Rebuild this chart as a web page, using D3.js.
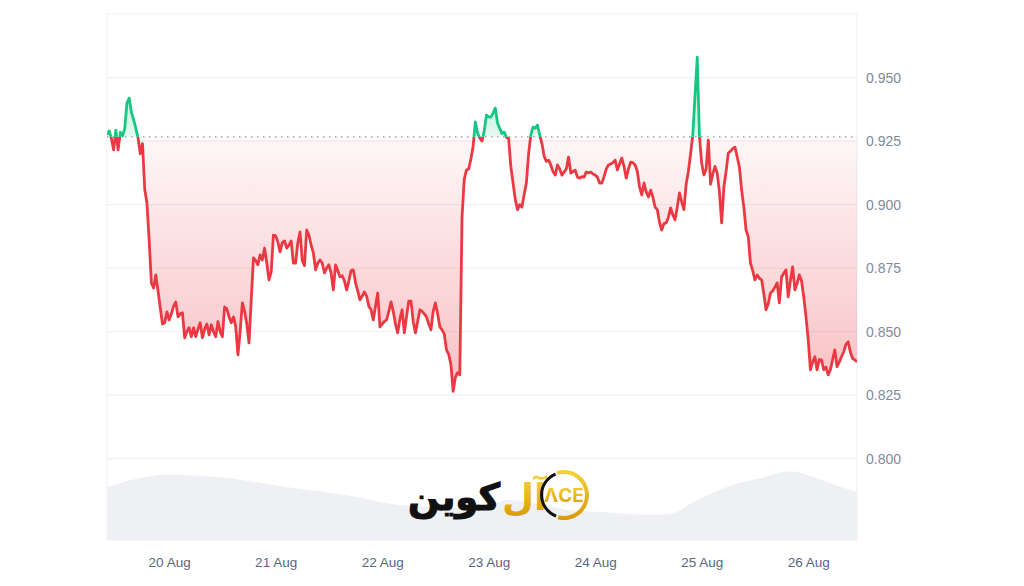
<!DOCTYPE html>
<html><head><meta charset="utf-8">
<script src="https://cdn.jsdelivr.net/npm/d3@7"></script>
<style>
body{margin:0;background:#fff;}
svg{display:block;font-family:Inter,"Noto Sans",sans-serif;}
</style>
</head><body>
<svg id="chart" width="1024" height="586"></svg>
<script>
// ---------------- data ----------------
const startTime = new Date(2024, 7, 19, 10, 0);   // first sample, 19 Aug 10:00
const priceStepMinutes = 30;
const prices = [
0.9275,0.9290,0.9260,0.9215,0.9293,0.9215,0.9285,0.9270,0.9300,0.9400,
0.9419,0.9363,0.9333,0.9300,0.9262,0.9200,0.9240,0.9060,0.9006,0.8860,
0.8692,0.8672,0.8723,0.8660,0.8594,0.8530,0.8535,0.8578,0.8546,0.8570,
0.8600,0.8617,0.8558,0.8570,0.8574,0.8476,0.8500,0.8515,0.8480,0.8515,
0.8480,0.8510,0.8535,0.8476,0.8510,0.8530,0.8487,0.8527,0.8500,0.8480,
0.8539,0.8500,0.8480,0.8597,0.8590,0.8558,0.8535,0.8558,0.8520,0.8409,
0.8500,0.8613,0.8580,0.8530,0.8456,0.8625,0.8790,0.8780,0.8763,0.8802,
0.8782,0.8829,0.8770,0.8704,0.8735,0.8880,0.8877,0.8853,0.8814,0.8850,
0.8857,0.8829,0.8840,0.8857,0.8770,0.8770,0.8850,0.8892,0.8780,0.8760,
0.8900,0.8880,0.8840,0.8810,0.8743,0.8770,0.8782,0.8770,0.8731,0.8750,
0.8763,0.8730,0.8664,0.8763,0.8740,0.8716,0.8720,0.8700,0.8664,0.8700,
0.8740,0.8743,0.8692,0.8660,0.8625,0.8640,0.8656,0.8640,0.8600,0.8586,
0.8546,0.8600,0.8652,0.8519,0.8530,0.8540,0.8546,0.8580,0.8617,0.8580,
0.8530,0.8495,0.8550,0.8586,0.8495,0.8560,0.8620,0.8620,0.8540,0.8495,
0.8540,0.8586,0.8580,0.8570,0.8558,0.8530,0.8507,0.8580,0.8613,0.8570,
0.8519,0.8507,0.8490,0.8428,0.8410,0.8370,0.8265,0.8320,0.8338,0.8330,
0.8950,0.9100,0.9136,0.9140,0.9180,0.9230,0.9325,0.9281,0.9262,0.9250,
0.9290,0.9352,0.9345,0.9344,0.9360,0.9380,0.9320,0.9300,0.9280,0.9285,
0.9265,0.9260,0.9148,0.9085,0.9020,0.8980,0.9000,0.8990,0.9040,0.9085,
0.9200,0.9274,0.9305,0.9300,0.9313,0.9274,0.9240,0.9190,0.9170,0.9175,
0.9156,0.9130,0.9116,0.9156,0.9140,0.9116,0.9128,0.9140,0.9187,0.9124,
0.9130,0.9135,0.9108,0.9104,0.9110,0.9108,0.9128,0.9125,0.9128,0.9120,
0.9116,0.9108,0.9085,0.9085,0.9110,0.9140,0.9156,0.9160,0.9165,0.9175,
0.9136,0.9160,0.9183,0.9150,0.9104,0.9140,0.9167,0.9165,0.9156,0.9130,
0.9070,0.9038,0.9085,0.9050,0.9030,0.9057,0.9030,0.8990,0.8980,0.8930,
0.8900,0.8925,0.8928,0.8950,0.8987,0.8960,0.8940,0.8990,0.9046,0.9010,
0.8980,0.9080,0.9130,0.9200,0.9274,0.9430,0.9580,0.9267,0.9163,0.9116,
0.9140,0.9254,0.9080,0.9120,0.9150,0.9124,0.9050,0.8928,0.9069,0.9130,
0.9203,0.9210,0.9220,0.9226,0.9187,0.9148,0.9057,0.8990,0.8900,0.8873,
0.8770,0.8740,0.8704,0.8723,0.8710,0.8704,0.8650,0.8586,0.8610,0.8652,
0.8660,0.8675,0.8692,0.8613,0.8715,0.8730,0.8743,0.8637,0.8700,0.8755,
0.8664,0.8690,0.8723,0.8700,0.8637,0.8560,0.8470,0.8350,0.8380,0.8401,
0.8350,0.8390,0.8389,0.8350,0.8360,0.8330,0.8350,0.8390,0.8428,0.8362,
0.8380,0.8401,0.8420,0.8450,0.8460,0.8420,0.8395,0.8389,0.8381
];
const baselinePrice = 0.9267;
const volumeStepHours = 7;
const volumes = [66,77,82,80,77,71,65,60,54,46,42,40,42,50,44,37,35,32,32,50,67,77,86,75,62,58];
const yTickValues = [0.800,0.825,0.850,0.875,0.900,0.925,0.950];
const xTickDates = [new Date(2024,7,20),new Date(2024,7,21),new Date(2024,7,22),new Date(2024,7,23),new Date(2024,7,24),new Date(2024,7,25),new Date(2024,7,26)];
const logoWord = "کوین";
const logoGold = "آل";

// ---------------- layout ----------------
const L = 107, R = 857, T = 14, B = 540;
const svg = d3.select("#chart");
const priceData = prices.map((v,i)=>({t: d3.timeMinute.offset(startTime, i*priceStepMinutes), v}));
const volData = volumes.map((v,i)=>({t: d3.timeHour.offset(startTime, i*volumeStepHours), v}));
const endTime = priceData[priceData.length-1].t;

const x = d3.scaleTime().domain([startTime, endTime]).range([L, R]);
const y = d3.scaleLinear().domain([0.768, 0.975]).range([B, T]);
const yv = d3.scaleLinear().domain([0, 100]).range([B, 460]);
const yB = y(baselinePrice);

const RED = "#ea3943", GREEN = "#16c784";

const defs = svg.append("defs");
const gr = defs.append("linearGradient").attr("id","gRed").attr("gradientUnits","userSpaceOnUse")
  .attr("x1",0).attr("x2",0).attr("y1",yB).attr("y2",y(0.826));
gr.append("stop").attr("offset",0).attr("stop-color",RED).attr("stop-opacity",0.04);
gr.append("stop").attr("offset",1).attr("stop-color",RED).attr("stop-opacity",0.32);
const gg = defs.append("linearGradient").attr("id","gGreen").attr("gradientUnits","userSpaceOnUse")
  .attr("x1",0).attr("x2",0).attr("y1",yB).attr("y2",y(0.958));
gg.append("stop").attr("offset",0).attr("stop-color",GREEN).attr("stop-opacity",0.12);
gg.append("stop").attr("offset",1).attr("stop-color",GREEN).attr("stop-opacity",0.35);
defs.append("clipPath").attr("id","above").append("rect").attr("x",L).attr("y",0).attr("width",R-L).attr("height",yB);
defs.append("clipPath").attr("id","below").append("rect").attr("x",L).attr("y",yB).attr("width",R-L).attr("height",586-yB);
defs.append("clipPath").attr("id","plot").append("rect").attr("x",L).attr("y",T).attr("width",R-L).attr("height",B-T);

// frame
svg.append("rect").attr("x",L).attr("y",T).attr("width",R-L).attr("height",B-T)
  .attr("fill","none").attr("stroke","#eff2f5").attr("stroke-width",1.2);

// volume
svg.append("path").datum(volData).attr("clip-path","url(#plot)")
  .attr("fill","#eef0f3")
  .attr("d", d3.area().x(d=>x(d.t)).y0(B).y1(d=>yv(d.v)).curve(d3.curveMonotoneX));

// grid
svg.append("g").selectAll("line").data(yTickValues).join("line")
  .attr("x1",L).attr("x2",R).attr("y1",d=>y(d)).attr("y2",d=>y(d))
  .attr("stroke","#eff2f5").attr("stroke-width",1.2);

// areas
const area = d3.area().x(d=>x(d.t)).y0(yB).y1(d=>y(d.v));
svg.append("path").datum(priceData).attr("clip-path","url(#below)").attr("fill","url(#gRed)").attr("d",area);
svg.append("path").datum(priceData).attr("clip-path","url(#above)").attr("fill","url(#gGreen)").attr("d",area);

// baseline
svg.append("line").attr("x1",L).attr("x2",R).attr("y1",yB).attr("y2",yB)
  .attr("stroke","#a6a9b4").attr("stroke-width",1.5).attr("stroke-dasharray","1.5,4.5");

// lines
const line = d3.line().x(d=>x(d.t)).y(d=>y(d.v));
svg.append("path").datum(priceData).attr("clip-path","url(#below)").attr("fill","none")
  .attr("stroke",RED).attr("stroke-width",2.8).attr("stroke-linejoin","round").attr("d",line);
svg.append("path").datum(priceData).attr("clip-path","url(#above)").attr("fill","none")
  .attr("stroke",GREEN).attr("stroke-width",2.8).attr("stroke-linejoin","round").attr("d",line);

// y axis
const ya = svg.append("g").attr("transform",`translate(${R},0)`)
  .call(d3.axisRight(y).tickValues(yTickValues).tickFormat(d3.format(".3f")).tickSize(0).tickPadding(9));
ya.select(".domain").remove();
ya.selectAll("text").attr("fill","#808a9d").style("font-size","14px");

// x axis
const xa = svg.append("g").attr("transform",`translate(0,${B})`)
  .call(d3.axisBottom(x).tickValues(xTickDates).tickFormat(d3.timeFormat("%-d %b")).tickSize(0).tickPadding(17));
xa.select(".domain").remove();
xa.selectAll("text").attr("fill","#58667e").style("font-size","13.5px");

// watermark logo
const lg = svg.append("g");
const gold = defs.append("linearGradient").attr("id","gold").attr("x1",0).attr("x2",0).attr("y1",0).attr("y2",1);
gold.append("stop").attr("offset",0).attr("stop-color","#f7d23a");
gold.append("stop").attr("offset",1).attr("stop-color","#d99a06");
lg.append("text").attr("x",500).attr("y",510).attr("text-anchor","end")
  .style("font-family","'DejaVu Sans'").style("font-weight","bold").style("font-size","37px")
  .attr("fill","#111").attr("stroke","#111").attr("stroke-width",1.2).text(logoWord);
lg.append("text").attr("x",502).attr("y",510).attr("text-anchor","start")
  .style("font-family","'DejaVu Sans'").style("font-weight","bold").style("font-size","37px")
  .attr("fill","url(#gold)").text(logoGold);
lg.append("path").attr("transform","translate(564,495)")
  .attr("d", d3.arc().innerRadius(21).outerRadius(25).startAngle(-0.3).endAngle(3.4)())
  .attr("fill","url(#gold)");
lg.append("path").attr("transform","translate(564,495)")
  .attr("d", d3.arc().innerRadius(21).outerRadius(24).startAngle(3.5).endAngle(5.9)())
  .attr("fill","#111");
lg.append("text").attr("x",564).attr("y",502).attr("text-anchor","middle")
  .style("font-weight","bold").style("font-size","19px").attr("fill","url(#gold)").text("ΛCE");
</script>
</body></html>
